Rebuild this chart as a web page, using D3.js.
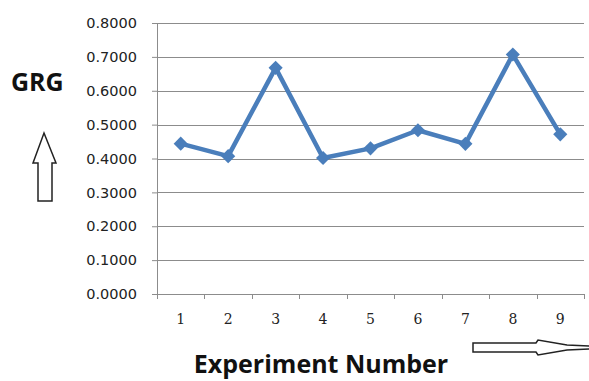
<!DOCTYPE html>
<html>
<head>
<meta charset="utf-8">
<script src="https://cdn.jsdelivr.net/npm/d3@7"></script>
<style>
  body { margin: 0; background: #fff; }
</style>
</head>
<body>
<script>
const experiments = ['1', '2', '3', '4', '5', '6', '7', '8', '9']
const grg = [0.4439, 0.4070, 0.6676, 0.4016, 0.4300, 0.4834, 0.4432, 0.7069, 0.4713]
const yTicks = [0, 0.1, 0.2, 0.3, 0.4, 0.5, 0.6, 0.7, 0.8]

const margin = {top: 23, right: 5, bottom: 87, left: 157}
const width = 589 - margin.left - margin.right
const height = 381 - margin.top - margin.bottom

const svg = d3.select('body').append('svg')
    .attr('width', 589)
    .attr('height', 381)

const g = svg.append('g')
    .attr('transform', `translate(${margin.left}, ${margin.top})`)

const xScale = d3.scaleBand()
    .domain(experiments)
    .range([0, 427])

const yScale = d3.scaleLinear()
    .domain([0, 0.8])
    .range([height, 0])

// gridlines
g.append('g')
    .selectAll('line')
    .data(yTicks.slice(1))
    .join('line')
    .attr('x1', 0)
    .attr('x2', 427)
    .attr('y1', d => Math.round(yScale(d)) + 0.5)
    .attr('y2', d => Math.round(yScale(d)) + 0.5)
    .style('stroke', '#8c8c8c')
    .style('stroke-width', 1)

// y axis
const yAxis = g.append('g')
    .call(d3.axisLeft(yScale).tickValues(yTicks).tickFormat(d3.format('.4f')).tickSize(5).tickPadding(15))
yAxis.select('.domain').style('stroke', '#8c8c8c')
yAxis.selectAll('.tick line').style('stroke', '#8c8c8c')
yAxis.selectAll('text')
    .style('font-family', 'DejaVu Sans')
    .style('font-size', '14.5px')
    .style('fill', '#222')

// x axis
const xAxis = g.append('g')
    .attr('transform', `translate(0, ${height})`)
    .call(d3.axisBottom(xScale).tickSize(0).tickPadding(20))
xAxis.select('.domain').style('stroke', '#8c8c8c')
xAxis.selectAll('text')
    .style('font-family', 'DejaVu Serif')
    .style('font-size', '14px')
    .style('fill', '#222')
xAxis.append('g')
    .selectAll('line')
    .data(d3.range(experiments.length + 1))
    .join('line')
    .attr('x1', i => Math.round(i * xScale.bandwidth()) + 0.5)
    .attr('x2', i => Math.round(i * xScale.bandwidth()) + 0.5)
    .attr('y1', 0)
    .attr('y2', 5)
    .style('stroke', '#8c8c8c')

// line
const line = d3.line()
    .x((d, i) => xScale(experiments[i]) + xScale.bandwidth() / 2)
    .y(d => yScale(d))

g.append('path')
    .datum(grg)
    .style('stroke', '#4a7ebb')
    .style('stroke-width', 4.5)
    .style('stroke-linejoin', 'round')
    .style('fill', 'none')
    .attr('d', line)

g.append('g')
    .selectAll('path')
    .data(grg)
    .join('path')
    .attr('d', d3.symbol(d3.symbolSquare, 100))
    .attr('transform', (d, i) => `translate(${xScale(experiments[i]) + xScale.bandwidth() / 2}, ${yScale(d)}) rotate(45)`)
    .style('fill', '#4a7ebb')

// titles
svg.append('text')
    .attr('x', 11)
    .attr('y', 91)
    .text('GRG')
    .style('font-family', 'Open Sans')
    .style('font-weight', 'bold')
    .style('font-size', '25px')
    .style('fill', '#111')

svg.append('text')
    .attr('x', 321)
    .attr('y', 373)
    .attr('text-anchor', 'middle')
    .text('Experiment Number')
    .style('font-family', 'Open Sans')
    .style('font-weight', 'bold')
    .style('font-size', '25px')
    .style('fill', '#111')

// arrows
svg.append('path')
    .attr('d', 'M44,133 L56,163 L52,163 L52,201 L38,201 L38,163 L33,163 Z')
    .style('fill', '#fff')
    .style('stroke', '#222')
    .style('stroke-width', 1.5)

svg.append('path')
    .attr('d', 'M473,343 L536,343 L538,340 L567,345 L590,346 L590,349 L567,350 L538,355 L536,352 L473,352 Z')
    .style('fill', '#fff')
    .style('stroke', '#222')
    .style('stroke-width', 1.5)
</script>
</body>
</html>
